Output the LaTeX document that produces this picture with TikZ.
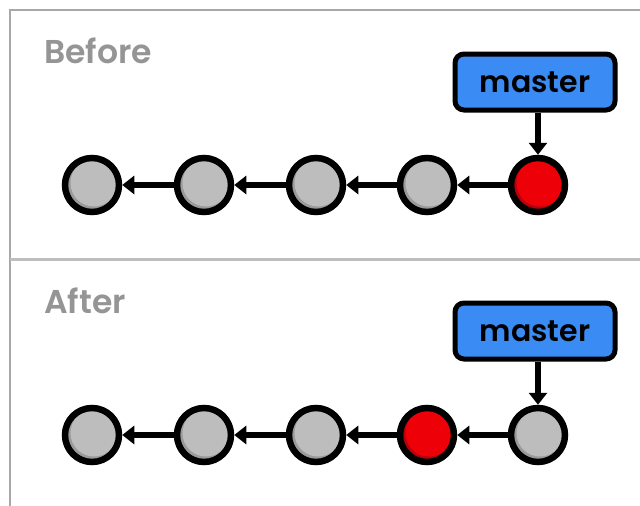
\documentclass[tikz,border=0pt]{standalone}
\usepackage{fontspec}
\setmainfont{Poppins}[UprightFont=* SemiBold]
\usetikzlibrary{arrows.meta}
\definecolor{commitgray}{HTML}{BDBDBD}
\definecolor{commitdark}{HTML}{9A9A9A}
\definecolor{commitred}{HTML}{EE0008}
\definecolor{commitreddark}{HTML}{B8000A}
\definecolor{branchblue}{HTML}{3A8CF4}
\definecolor{framegray}{HTML}{A8A8A8}
\definecolor{labelgray}{HTML}{959595}
\tikzset{
  commit/.style={circle, draw=black, line width=6.5pt, minimum size=54pt, inner sep=0pt, fill=commitdark,
    path picture={\fill[commitgray] ([xshift=2pt,yshift=2pt]path picture bounding box.center) circle (23.5pt);}},
  headcommit/.style={circle, draw=black, line width=6.5pt, minimum size=54pt, inner sep=0pt, fill=commitreddark,
    path picture={\fill[commitred] ([xshift=2pt,yshift=2pt]path picture bounding box.center) circle (23.5pt);}},
  branch/.style={draw=black, line width=5pt, fill=branchblue, rounded corners=9pt,
    minimum width=160pt, minimum height=56pt, inner sep=0pt, font=\fontsize{30}{34}\selectfont},
  title/.style={anchor=base west, text=labelgray, inner sep=0pt, font=\fontsize{33}{38}\selectfont},
  parent/.style={-{Triangle[length=12pt,width=18pt]}, line width=6pt},
  frameline/.style={draw=framegray, line width=2pt},
}
\begin{document}
\begin{tikzpicture}[x=1pt,y=-1pt]
\useasboundingbox (0,0) rectangle (640,506);
\fill[white] (0,0) rectangle (640,506);
% frame
\draw[frameline] (10,506) -- (10,10) -- (641,10);
\draw[draw=framegray!75, line width=3pt] (10,259) -- (641,259);
% Before
\node[title] (tb) at (44,63) {Before};
\node[commit] (b1) at (92,185) {};
\node[commit] (b2) at (204,185) {};
\node[commit] (b3) at (316,185) {};
\node[commit] (b4) at (427,185) {};
\node[headcommit] (b5) at (538,185) {};
\node[branch] (mb) at (535,82) {master};
\draw[parent] (b2) -- (b1);
\draw[parent] (b3) -- (b2);
\draw[parent] (b4) -- (b3);
\draw[parent] (b5) -- (b4);
\draw[parent] (mb.south -| b5) -- (b5.north);
% After
\node[title] (ta) at (44,313) {After};
\node[commit] (a1) at (92,435) {};
\node[commit] (a2) at (204,435) {};
\node[commit] (a3) at (316,435) {};
\node[headcommit] (a4) at (427,435) {};
\node[commit] (a5) at (538,435) {};
\node[branch] (ma) at (535,331) {master};
\draw[parent] (a2) -- (a1);
\draw[parent] (a3) -- (a2);
\draw[parent] (a4) -- (a3);
\draw[parent] (a5) -- (a4);
\draw[parent] (ma.south -| a5) -- (a5.north);
\end{tikzpicture}
\end{document}
